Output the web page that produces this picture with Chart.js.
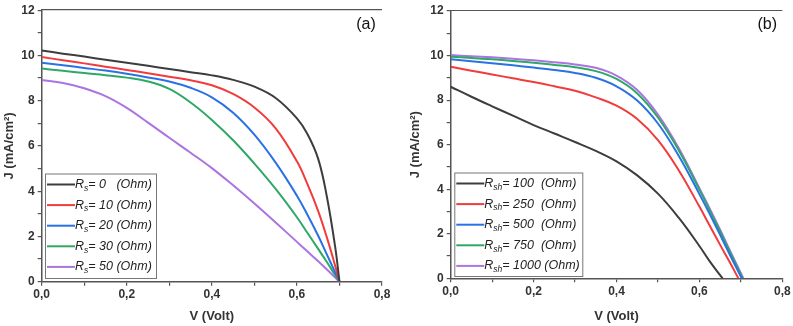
<!DOCTYPE html>
<html>
<head>
<meta charset="utf-8">
<script src="https://cdn.jsdelivr.net/npm/chart.js@4.4.1/dist/chart.umd.min.js"></script>
<style>
html,body{margin:0;padding:0;background:#fff;}
#wrap{position:relative;width:793px;height:326px;overflow:hidden;}
canvas{position:absolute;top:0;}
#ca{left:0;}
#cb{left:396px;}
</style>
</head>
<body>
<div id="wrap">
  <canvas id="ca" width="396" height="326"></canvas>
  <canvas id="cb" width="397" height="326"></canvas>
</div>
<script>
const colors = ["#3d3d3d", "#f23b3b", "#2a72e4", "#2fa865", "#ab74e2"];

// panel (a): effect of series resistance
const vA = [0, 0.05, 0.1, 0.15, 0.2, 0.25, 0.3, 0.35, 0.4, 0.45, 0.5, 0.55, 0.6, 0.625, 0.65, 0.67, 0.69, 0.7];
const rsValues = ["0", "10", "20", "30", "50"];
const jRs0  = [10.22, 10.08, 9.95, 9.81, 9.68, 9.54, 9.40, 9.26, 9.12, 8.92, 8.62, 8.12, 7.22, 6.52, 5.43, 3.80, 1.53, 0];
const jRs10 = [9.93, 9.79, 9.65, 9.50, 9.36, 9.21, 9.06, 8.90, 8.68, 8.30, 7.70, 6.78, 5.32, 4.30, 3.12, 1.98, 0.70, 0];
const jRs20 = [9.68, 9.57, 9.45, 9.33, 9.19, 9.03, 8.85, 8.57, 8.15, 7.47, 6.50, 5.26, 3.80, 2.95, 2.03, 1.22, 0.41, 0];
const jRs30 = [9.42, 9.32, 9.22, 9.13, 9.02, 8.85, 8.52, 7.92, 7.15, 6.25, 5.22, 4.10, 2.85, 2.15, 1.45, 0.88, 0.29, 0];
const jRs50 = [8.91, 8.78, 8.55, 8.20, 7.68, 7.03, 6.36, 5.70, 5.02, 4.26, 3.46, 2.62, 1.76, 1.33, 0.90, 0.55, 0.18, 0];

// panel (b): effect of shunt resistance
const vB = [0, 0.05, 0.1, 0.15, 0.2, 0.25, 0.3, 0.35, 0.4, 0.45, 0.5, 0.55, 0.6, 0.625, 0.65, 0.675];
const rshValues = ["100", "250", "500", "750", "1000"];
const jRsh100  = [8.60, 8.15, 7.72, 7.30, 6.88, 6.50, 6.12, 5.72, 5.25, 4.62, 3.80, 2.72, 1.45, 0.76, 0.14, null];
const jRsh250  = [9.50, 9.32, 9.15, 8.98, 8.81, 8.62, 8.42, 8.12, 7.75, 7.15, 6.20, 4.85, 3.22, 2.36, 1.50, 0.66];
const jRsh500  = [9.83, 9.74, 9.65, 9.56, 9.46, 9.35, 9.22, 9.00, 8.62, 7.98, 6.95, 5.50, 3.78, 2.88, 1.95, 1.00];
const jRsh750  = [9.95, 9.89, 9.83, 9.76, 9.68, 9.58, 9.47, 9.30, 8.95, 8.30, 7.22, 5.75, 3.98, 3.05, 2.10, 1.13];
const jRsh1000 = [10.02, 9.97, 9.92, 9.86, 9.79, 9.70, 9.60, 9.45, 9.10, 8.45, 7.35, 5.85, 4.05, 3.12, 2.18, 1.20];
const vocB = [0.656, 0.694, 0.702, 0.704, 0.706];

const xTicks = [0, 0.2, 0.4, 0.6, 0.8];
const yTicks = [0, 2, 4, 6, 8, 10, 12];

function pts(v, j, voc) {
  const out = [];
  v.forEach((x, i) => { if (j[i] !== null) out.push({x: x, y: j[i]}); });
  if (voc !== undefined) out.push({x: voc, y: 0});
  return out;
}

// top border of the frame
const frame = {
  id: "frame",
  afterDraw(chart) {
    const {ctx, chartArea: a} = chart;
    ctx.save();
    ctx.strokeStyle = "#555";
    ctx.lineWidth = 1.2;
    ctx.beginPath();
    ctx.moveTo(a.left, a.top - 0.5);
    ctx.lineTo(a.right, a.top - 0.5);
    ctx.stroke();
    ctx.restore();
  }
};

const legendBox = {
  id: "legendBox",
  afterDatasetsDraw(chart, args, o) {
    const {ctx, chartArea: a} = chart;
    const x0 = a.left + o.dx, y1 = a.bottom - o.dy, y0 = y1 - o.h;
    ctx.save();
    ctx.fillStyle = "#fff";
    ctx.fillRect(x0, y0, o.w, o.h);
    ctx.strokeStyle = "#777";
    ctx.lineWidth = 1;
    ctx.strokeRect(x0 + 0.5, y0 + 0.5, o.w, o.h);
    chart.data.datasets.forEach((ds, i) => {
      const y = y0 + 11 + i * 20.6;
      ctx.strokeStyle = ds.borderColor;
      ctx.lineWidth = 2;
      ctx.beginPath();
      ctx.moveTo(x0 + 2, y);
      ctx.lineTo(x0 + 2 + o.line, y);
      ctx.stroke();
      let x = x0 + 2 + o.line;
      ctx.fillStyle = "#222";
      ctx.textBaseline = "middle";
      ctx.font = "italic 12.5px 'Liberation Sans', Arial, sans-serif";
      ctx.fillText("R", x, y);
      x += ctx.measureText("R").width;
      ctx.font = "italic 8.5px 'Liberation Sans', Arial, sans-serif";
      ctx.fillText(o.sub, x, y + 4);
      x += ctx.measureText(o.sub).width;
      ctx.font = "italic 12.5px 'Liberation Sans', Arial, sans-serif";
      ctx.fillText(o.texts[i], x, y);
    });
    ctx.restore();
  }
};

const cornerTag = {
  id: "cornerTag",
  afterDraw(chart, args, o) {
    const {ctx, chartArea: a} = chart;
    ctx.save();
    ctx.fillStyle = "#111";
    ctx.font = "16px 'Liberation Sans', Arial, sans-serif";
    ctx.textAlign = "center";
    ctx.textBaseline = "middle";
    ctx.fillText(o.text, a.right - o.dx, a.top + o.dy);
    ctx.restore();
  }
};

function makeScales(yWidth, xHeight) {
  const gridOpts = {drawOnChartArea: false, drawTicks: true, tickLength: 4, color: "#555", lineWidth: 1.2};
  const borderOpts = {display: true, color: "#555", width: 1.5};
  return {
    x: {
      type: "linear", min: 0, max: 0.8,
      afterFit(s) { s.height = xHeight; },
      grid: gridOpts, border: borderOpts,
      ticks: {
        stepSize: 0.1, autoSkip: false, maxRotation: 0, padding: 2, color: "#333",
        font: {family: "'Liberation Sans', Arial, sans-serif", size: 12, weight: "bold"},
        callback: (v) => xTicks.some(t => Math.abs(t - v) < 1e-6) ? v.toFixed(1).replace(".", ",") : ""
      },
      title: {
        display: true, text: "V (Volt)", color: "#333", padding: {top: 0, bottom: 2},
        font: {family: "'Liberation Sans', Arial, sans-serif", size: 13, weight: "bold"}
      }
    },
    y: {
      type: "linear", min: 0, max: 12,
      afterFit(s) { s.width = yWidth; },
      grid: gridOpts, border: borderOpts,
      ticks: {
        stepSize: 1, autoSkip: false, padding: 3, color: "#333",
        font: {family: "'Liberation Sans', Arial, sans-serif", size: 12, weight: "bold"},
        callback: (v) => yTicks.includes(v) ? String(v) : ""
      },
      title: {
        display: true, text: "J (mA/cm²)", color: "#333", padding: {top: 2, bottom: 0},
        font: {family: "'Liberation Sans', Arial, sans-serif", size: 13, weight: "bold"}
      }
    }
  };
}

function makeSets(series) {
  return series.map((d, i) => ({
    label: "s" + i,
    data: d,
    borderColor: colors[i],
    borderWidth: 2,
    pointRadius: 0,
    fill: false,
    tension: 0.4
  }));
}

new Chart(document.getElementById("ca"), {
  type: "line",
  data: {
    datasets: makeSets([pts(vA, jRs0), pts(vA, jRs10), pts(vA, jRs20), pts(vA, jRs30), pts(vA, jRs50)])
  },
  options: {
    responsive: false, animation: false, devicePixelRatio: 1,
    layout: {padding: {left: 0, right: 14, top: 7.5, bottom: 0}},
    scales: makeScales(41.7, 44.3),
    plugins: {
      legend: {display: false}, tooltip: {enabled: false},
      legendBox: {dx: 3.3, dy: 3.7, w: 111, h: 104.5, line: 28, sub: "s",
        texts: rsValues.map(v => "= " + v + (v.length === 1 ? "   " : " ") + "(Ohm)")},
      cornerTag: {text: "(a)", dx: 16, dy: 14}
    }
  },
  plugins: [frame, legendBox, cornerTag]
});

new Chart(document.getElementById("cb"), {
  type: "line",
  data: {
    datasets: makeSets([
      pts(vB, jRsh100, vocB[0]), pts(vB, jRsh250, vocB[1]), pts(vB, jRsh500, vocB[2]),
      pts(vB, jRsh750, vocB[3]), pts(vB, jRsh1000, vocB[4])
    ])
  },
  options: {
    responsive: false, animation: false, devicePixelRatio: 1,
    layout: {padding: {left: 9.7, right: 10.7, top: 11, bottom: 0}},
    scales: makeScales(45, 47.7),
    plugins: {
      legend: {display: false}, tooltip: {enabled: false},
      legendBox: {dx: 3.6, dy: 2.3, w: 128, h: 103.5, line: 28, sub: "sh",
        texts: rshValues.map(v => "= " + v + (v.length === 4 ? " " : "  ") + "(Ohm)")},
      cornerTag: {text: "(b)", dx: 15, dy: 14}
    }
  },
  plugins: [frame, legendBox, cornerTag]
});
</script>
</body>
</html>
